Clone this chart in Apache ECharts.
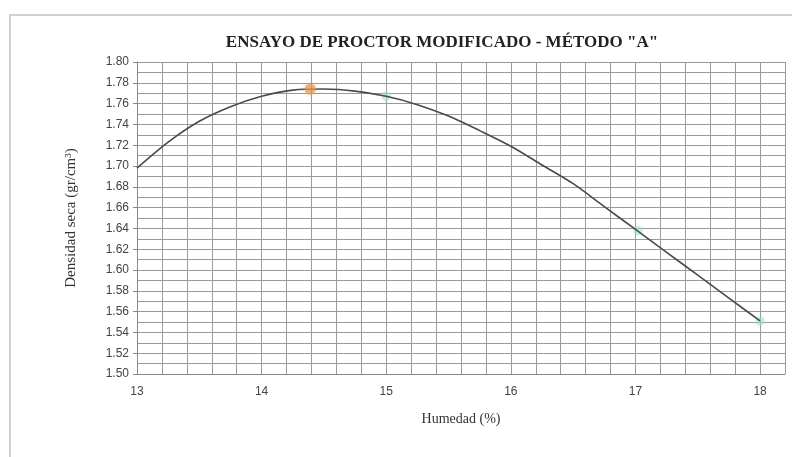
<!DOCTYPE html>
<html>
<head>
<meta charset="utf-8">
<style>
  html, body { margin: 0; padding: 0; background: #ffffff; }
  #chart { width: 792px; height: 457px; }
</style>
<script src="https://cdn.jsdelivr.net/npm/echarts@6/dist/echarts.min.js"></script>
</head>
<body>
<div id="chart"></div>
<script>
// Compaction curve (humedad %, densidad seca gr/cm3)
const curveHumedad  = [13.00, 13.25, 13.50, 13.75, 14.00, 14.25, 14.50, 14.75, 15.00, 15.25, 15.50,
                       15.75, 16.00, 16.25, 16.50, 16.75, 17.00, 17.25, 17.50, 17.75, 18.00];
const curveDensidad = [1.698, 1.723, 1.743, 1.757, 1.767, 1.773, 1.774, 1.772, 1.767, 1.759, 1.748,
                       1.734, 1.719, 1.701, 1.683, 1.661, 1.639, 1.617, 1.595, 1.573, 1.551];

// Measured points on the curve
const puntosHumedad  = [15.00, 17.02, 18.00];
const puntosDensidad = [1.767, 1.638, 1.551];

// Maximum dry density / optimum moisture
const optimoHumedad  = [14.39];
const optimoDensidad = [1.774];

const titulo = 'ENSAYO DE PROCTOR MODIFICADO - MÉTODO "A"';
const ejeX = 'Humedad (%)';
const ejeY = 'Densidad seca (gr/cm³)';

const zip = (a, b) => a.map((v, i) => [v, b[i]]);

const chart = echarts.init(document.getElementById('chart'), null, { renderer: 'canvas' });

const gridColor = '#9a9a9a';

chart.setOption({
  animation: false,
  backgroundColor: '#ffffff',
  graphic: [{
    type: 'rect',
    shape: { x: 10, y: 15, width: 800, height: 470 },
    style: { fill: 'none', stroke: '#c4c4c4', lineWidth: 1.5 },
    silent: true
  }],
  title: {
    text: titulo,
    left: 437,
    top: 29,
    textAlign: 'center',
    textStyle: {
      fontFamily: 'Liberation Serif',
      fontWeight: 'bold',
      fontSize: 17,
      color: '#222'
    }
  },
  grid: { left: 137, right: 7, top: 62, bottom: 83 },
  xAxis: {
    type: 'value',
    min: 13,
    max: 18.2,
    interval: 0.2,
    name: ejeX,
    nameLocation: 'middle',
    nameGap: 38,
    nameTextStyle: { fontFamily: 'Liberation Serif', fontSize: 14, color: '#333' },
    axisLine: { show: true, lineStyle: { color: '#888', width: 1 } },
    axisTick: { show: false },
    axisLabel: {
      fontFamily: 'Liberation Sans',
      fontSize: 12,
      color: '#444',
      margin: 12,
      formatter: v => Math.abs(v - Math.round(v)) < 1e-6 ? String(Math.round(v)) : ''
    },
    splitLine: { show: true, lineStyle: { color: gridColor, width: 1 } }
  },
  yAxis: {
    type: 'value',
    min: 1.5,
    max: 1.8,
    interval: 0.02,
    name: ejeY,
    nameLocation: 'middle',
    nameGap: 58,
    nameTextStyle: { fontFamily: 'Liberation Serif', fontSize: 15, color: '#333' },
    axisLine: { show: true, lineStyle: { color: '#888', width: 1 } },
    axisTick: { show: true, length: 4, lineStyle: { color: '#888' } },
    minorTick: { show: false, splitNumber: 2 },
    minorSplitLine: { show: true, lineStyle: { color: gridColor, width: 1 } },
    axisLabel: {
      fontFamily: 'Liberation Sans',
      fontSize: 12,
      color: '#444',
      margin: 8,
      formatter: v => v.toFixed(2)
    },
    splitLine: { show: true, lineStyle: { color: gridColor, width: 1 } }
  },
  series: [
    {
      type: 'line',
      data: zip(curveHumedad, curveDensidad),
      smooth: 0.3,
      showSymbol: false,
      lineStyle: { color: '#4a4a4a', width: 1.6 },
      z: 3
    },
    {
      type: 'scatter',
      data: zip(puntosHumedad, puntosDensidad),
      symbol: 'circle',
      symbolSize: 9,
      itemStyle: { color: 'rgba(150,225,205,0.6)', shadowBlur: 4, shadowColor: 'rgba(150,225,205,0.6)' },
      z: 2
    },
    {
      type: 'scatter',
      data: zip(optimoHumedad, optimoDensidad),
      symbol: 'circle',
      symbolSize: 11,
      itemStyle: { color: 'rgba(225,150,80,0.8)', shadowBlur: 5, shadowColor: 'rgba(225,150,80,0.7)' },
      z: 4
    }
  ]
});
</script>
</body>
</html>
